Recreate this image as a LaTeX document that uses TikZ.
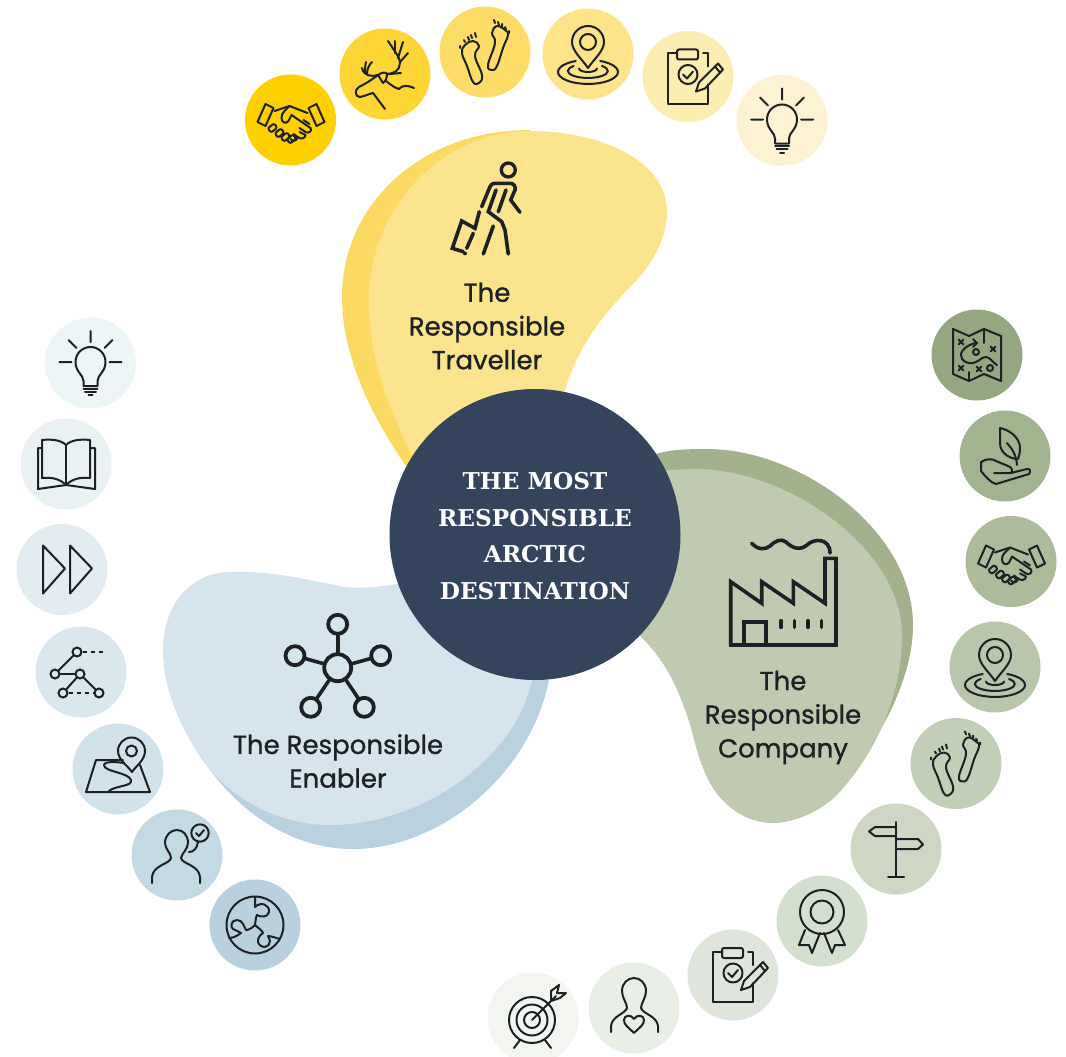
\documentclass[tikz,border=0pt]{standalone}
\usepackage{fontspec}
\newfontfamily\labfont[FakeBold=1]{Poppins}
\newfontfamily\headfont{DejaVu Serif}[BoldFont={DejaVu Serif Bold}]
\definecolor{ink}{HTML}{1D2124}
\definecolor{navy}{HTML}{33445C}
\definecolor{yd}{HTML}{FCDA62}\definecolor{yl}{HTML}{FCE48F}
\definecolor{gd}{HTML}{A3B18C}\definecolor{gl}{HTML}{BFCAB0}
\definecolor{bd}{HTML}{BAD2DF}\definecolor{bl}{HTML}{D6E5ED}
\tikzset{
 x=1pt,y=-1pt,
 disk/.style={circle,minimum size=91pt,inner sep=0pt,/utils/exec={\definecolor{dk}{HTML}{#1}},fill=dk},
 ic/.style={draw=ink,line width=2pt,line cap=round,line join=round},
 big/.style={draw=ink,line width=3.6pt,line cap=round,line join=miter},
 lab/.style={text=ink,align=center,font=\labfont\fontsize{26}{33.7}\selectfont,inner sep=0pt},
 head/.style={text=white,align=center,font=\headfont\bfseries\fontsize{23.2}{36.6}\selectfont,inner sep=0pt},
 nd/.style={circle,draw=ink,line width=2pt,minimum size=9pt,inner sep=0pt},
 hubn/.style={circle,draw=ink,line width=3.8pt,minimum size=19pt,inner sep=0pt},
 pics/hshake/.style={code={
  \path[ic] (-25,-16)--(-17,-12)--(-25,6)--(-33,2)--cycle;
  \path[ic] (18,-12)--(26,-16)--(34,2)--(26,6)--cycle;
  \path[ic] (-16,-9)--(-1,-14)--(17,-7);
  \path[ic] (-1,-14) .. controls (-6,-9) and (-9,-7) .. (-9,-2) .. controls (-9,3) and (-4,4) .. (-2,1) -- (1,-5) -- (20,8) .. controls (22,11) and (18,14) .. (15,12);
  \path[ic] (9,12)--(15,15) .. controls (15,18) and (11,20) .. (7,17);
  \path[ic] (3,14)--(7,17) .. controls (7,21) and (2,22) .. (0,19);
  \path[ic] (19,4)--(13,0); \path[ic] (15,12)--(9,8);
  \foreach \p/\q in {-18/8,-11/13,-5/17,1/19}{\path[ic,rounded corners=2pt,rotate around={40:(\p,\q)}] (\p-4,\q-2.7) rectangle (\p+4,\q+2.7);}
 }},
 pics/deer/.style={code={
  \path[ic] (29,14) .. controls (24,12) and (19,10) .. (14,15) .. controls (10,14) and (6,11) .. (1,7);
  \path[ic] (-7,1) .. controls (-12,5) and (-20,10) .. (-26,13) .. controls (-31,16) and (-30,23) .. (-25,23) .. controls (-20,22) and (-16,20) .. (-12,19) -- (0,35);
  \path[ic] (-7,1) .. controls (-3,-2) and (1,-2) .. (2,0) .. controls (2,3) and (1,7) .. (-2,9) .. controls (-4,6) and (-5,4) .. (-7,1);
  \path[ic] (2,0) .. controls (9,0) and (15,-4) .. (15,-11) .. controls (15,-17) and (8,-25) .. (3,-33);
  \path[ic] (10,-21)--(10,-33); \path[ic] (13,-16)--(18,-32); \path[ic] (15,-12)--(23,-21); \path[ic] (5,0)--(16,-1);
  \path[ic] (-7,1) .. controls (-14,3) and (-21,2) .. (-23,-6);
  \path[ic] (-20,-1) .. controls (-20,-5) and (-20,-8) .. (-19,-12); \path[ic] (-18,0) .. controls (-18,-5) and (-16,-9) .. (-13,-12);
 }},
 pics/feet/.style={code={
  \path[ic] plot[smooth cycle,tension=.7] coordinates {(-20,-7)(-12,-11)(-6,-6)(-10,4)(-3,23)(-6,31)(-12,30)(-18,14)(-23,1)};
  \path[ic] plot[smooth cycle,tension=.7] coordinates {(12,-26)(20,-22)(23,-17)(18,-4)(12,14)(7,18)(3,13)(10,-9)(7,-19)};
  \path[ic] (-25,-6)--(-25,-4) (-21,-12)--(-20,-10) (-17,-15)--(-16,-12) (-14,-17)--(-13,-14) (-10,-19)--(-9,-15);
  \path[ic] (9,-32)--(10,-29) (13,-30)--(14,-27) (17,-28)--(17,-26) (20,-25)--(21,-23) (24,-21)--(24,-19);
 }},
 pics/pinring/.style={code={
  \path[ic] (0,14) .. controls (-6,5) and (-16,-3) .. (-16,-12) arc[start angle=180,end angle=360,radius=16] .. controls (16,-3) and (6,5) .. cycle;
  \path[ic] (0,-12) circle[radius=8];
  \path[ic] (12.2,7) arc[start angle=-66,end angle=246,x radius=30,y radius=12];
  \path[ic] (14,12) arc[start angle=-45,end angle=225,x radius=20,y radius=7];
  \path[ic] (-9,14.5) arc[start angle=180,end angle=0,x radius=9,y radius=3.5];
 }},
 pics/clip/.style={code={
  \path[ic] (-11,-23)--(-20,-23)--(-20,27)--(20,27)--(20,8);
  \path[ic] (15,-23)--(20,-23)--(20,-10);
  \path[ic,rounded corners=2pt] (-11,-27) rectangle (10,-17);
  \path[ic] (0,-2) circle[radius=9.5];
  \path[ic] (-5,-2)--(-1,2)--(5,-5);
  \path[ic] (8,15)--(11,6)--(30,-13)--(35,-7)--(17,12)--cycle;
  \path[ic] (27,-10)--(32,-4);
 }},
 pics/bulb/.style={code={
  \path[ic] (0,-32)--(0,-21) (-22,-23)--(-14,-15) (22,-23)--(14,-15) (-31,-1)--(-19,-1) (19,-1)--(31,-1);
  \path[ic] (-7,23)--(-7,18) .. controls (-7,12) and (-15,9) .. (-15,-1) arc[start angle=180,end angle=360,radius=15] .. controls (15,9) and (7,12) .. (7,18)--(7,23)--cycle;
  \path[ic] (-7,25.5)--(7,25.5) (-5.5,28.5)--(5.5,28.5) (-2,32)--(2,32);
 }},
 pics/tmap/.style={code={
  \path[ic] (-24,-26)--(-8,-19)--(7,-26)--(24,-19)--(24,26)--(7,19)--(-8,26)--(-24,19)--cycle;
  \path[ic] (7,-26)--(7,-12) (-8,17)--(-8,26);
  \path[ic] (0,-12) .. controls (-6,-12) and (-16,-6) .. (-16,0) .. controls (-16,6) and (-10,9) .. (-4,8) .. controls (2,7) and (4,2) .. (9,2) .. controls (13,2) and (16,8) .. (20,10);
  \path[ic] (-4,-16)--(0,-12)--(-4,-8);
  \path[ic] (-1,-3) circle[radius=3] (13,13) circle[radius=3];
  \foreach \p/\q in {-16/-13,16/-6,-16/13,2/14}{\path[ic] (\p-2.5,\q-2.5)--(\p+2.5,\q+2.5) (\p-2.5,\q+2.5)--(\p+2.5,\q-2.5);}
 }},
 pics/plant/.style={code={
  \path[ic] (-5,-28) .. controls (5,-26) and (15,-18) .. (15,-8) .. controls (15,-3) and (14,0) .. (13,3) .. controls (6,3) and (-5,-2) .. (-5,-13)--cycle;
  \path[ic] (2,-13) .. controls (6,-8) and (11,-3) .. (12,9);
  \path[ic] (-24,6)--(-24,15) .. controls (-20,20) and (-14,27) .. (-9,28) -- (24,18) .. controls (26,16) and (25,12) .. (22,13) -- (6,17)--(-11,17);
  \path[ic] (-24,6) .. controls (-18,2) and (-12,3) .. (-9,5) -- (3,10) .. controls (7,11) and (8,15) .. (6,17);
 }},
 pics/signpost/.style={code={
  \path[ic] (0,-27)--(0,28) (-8,28)--(8,28);
  \path[ic] (0,-22)--(-21,-22)--(-27,-17.5)--(-21,-13)--(0,-13);
  \path[ic] (0,-10)--(22,-10)--(27,-4.5)--(22,0)--(0,0);
 }},
 pics/ribbon/.style={code={
  \path[ic] (0,-9) circle[radius=22] (0,-9) circle[radius=11.5];
  \path[ic] (-17,9)--(-23,24)--(-13,24)--(-10,32)--(-2,12);
  \path[ic] (16,9)--(23,24)--(13,24)--(10,32)--(2,12);
 }},
 pics/heartman/.style={code={
  \path[ic] (-23,24)--(-23,18) .. controls (-22,8) and (-9,6) .. (-7,0) .. controls (-7,-5) and (-12,-10) .. (-12,-17) .. controls (-12,-25) and (-6,-30) .. (0,-30) .. controls (6,-30) and (12,-25) .. (12,-17) .. controls (12,-10) and (7,-5) .. (7,0) .. controls (9,6) and (23,8) .. (24,18)--(24,24);
  \path[ic] (0,25) .. controls (-6,19) and (-10,17) .. (-10,12) .. controls (-10,7) and (-3,6) .. (0,11) .. controls (3,6) and (10,7) .. (10,12) .. controls (10,17) and (6,19) .. (0,25);
 }},
 pics/target/.style={code={
  \path[ic] (-1,2) circle[radius=23] (-1,2) circle[radius=15.5] (-1,2) circle[radius=8];
  \path[ic] (-1,2)--(23,-22);
  \path[ic] (18,-17)--(18,-27)--(26,-33)--(24,-25)--(33,-25)--(27,-20)--cycle;
  \path[ic] (-13,22)--(-19,30) (12,22)--(18,30);
 }},
 pics/book/.style={code={
  \path[ic] (0,-19) .. controls (-5,-24) and (-14,-25) .. (-24,-24)--(-24,14) .. controls (-14,13) and (-6,15) .. (0,21) .. controls (6,15) and (14,13) .. (24,14)--(24,-24) .. controls (14,-25) and (5,-24) .. (0,-19)--cycle;
  \path[ic] (0,-19)--(0,21);
  \path[ic] (-24,-16)--(-28,-16)--(-28,25)--(0,21)--(29,25)--(29,-16)--(24,-16);
 }},
 pics/ffwd/.style={code={
  \path[ic] (-19,-24)--(3,-1)--(-19,24)--cycle;
  \path[ic] (8,-24)--(30,-1)--(8,24)--cycle;
 }},
 pics/netw/.style={code={
  \node[nd] (na) at (-4,-20) {}; \node[nd] (nb) at (-26,2) {}; \node[nd] (nc) at (-1,2) {};
  \node[nd] (nd) at (-18,21) {}; \node[nd] (ne) at (18,21) {};
  \coordinate (nf) at (23,-20);
  \path[ic] (na)--(nb); \path[ic] (nb)--(nc); \path[ic] (nc)--(nd); \path[ic] (nc)--(ne);
  \path[ic,dash pattern=on 4pt off 4pt,line cap=butt] (nd)--(ne); \path[ic,dash pattern=on 4pt off 4pt,line cap=butt] (na)--(nf);
 }},
 pics/mappin/.style={code={
  \path[ic] (14,3) .. controls (10,-3) and (0,-9) .. (0,-18) arc[start angle=180,end angle=360,radius=13.5] .. controls (27,-9) and (18,-3) .. cycle;
  \path[ic] (13.5,-18) circle[radius=5.5];
  \path[ic] (5,-9)--(-22,-9)--(-32,23)--(32,23)--(22,-4);
  \path[ic] (6,-6) .. controls (0,-7) and (-14,-8) .. (-14,-4) .. controls (-14,3) and (10,3) .. (13,11) .. controls (15,18) and (-4,16) .. (-10,23);
 }},
 pics/checkman/.style={code={
  \path[ic] (-25,28)--(-25,22) .. controls (-24,10) and (-7,9) .. (-6,3) .. controls (-6,-2) and (-12,-6) .. (-12,-12) .. controls (-12,-20) and (-6,-25) .. (0,-25) .. controls (6,-25) and (11,-20) .. (11,-12) .. controls (11,-6) and (5,-2) .. (4,3) .. controls (5,9) and (22,10) .. (23,22)--(23,28);
  \path[ic] (23,-22) circle[radius=8.7];
  \path[ic] (19,-22)--(22,-19)--(27,-25);
  \path[ic] (12,-3) .. controls (17,-3) and (20,-7) .. (21,-13);
 }},
 pics/puzzle/.style={code={
  \path[ic] (0,0) circle[radius=28.5];
  \path[ic] (0,-28.5)--(0,-18) .. controls (6,-24) and (15,-20) .. (14,-13) .. controls (13,-7) and (5,-8) .. (2,-10) .. controls (0,-6) and (1,-3) .. (0,0);
  \path[ic] (0,0) .. controls (-4,4) and (-7,5) .. (-9,5) .. controls (-11,2) and (-12,-5) .. (-18,-5) .. controls (-24,-5) and (-25,2) .. (-22,4) .. controls (-19,6) and (-16,6) .. (-14,8) .. controls (-18,11) and (-22,13) .. (-26,13);
  \path[ic] (0,0) .. controls (3,3) and (7,5) .. (8,8) .. controls (4,10) and (0,17) .. (6,21) .. controls (12,24) and (18,19) .. (13,11) .. controls (16,11) and (21,13) .. (25,14);
 }}
}
\begin{document}
\begin{tikzpicture}
\useasboundingbox (0,0) rectangle (1066,1057);
\clip (0,0) rectangle (1066,1057);
% blobs
\fill[yd] (410,472) .. controls (370,415) and (342,355) .. (342,297) .. controls (342,205) and (420,130) .. (530,130) -- (560,400) -- cycle;
\fill[yl] (420,470) .. controls (390,415) and (369,360) .. (369,300) .. controls (369,210) and (440,131) .. (530,131) .. controls (600,131) and (667,160) .. (667,212) .. controls (667,240) and (650,268) .. (630,287) .. controls (600,318) and (578,348) .. (565,390) -- (500,500) -- cycle;
\fill[gd] (640,460) .. controls (660,450) and (680,449) .. (707,449) .. controls (800,449) and (913,530) .. (913,625) .. controls (913,665) and (895,710) .. (865,755) -- (700,600) -- cycle;
\fill[gl] (640,475) .. controls (660,470) and (680,469) .. (697,469) .. controls (790,470) and (902,550) .. (902,635) .. controls (902,690) and (880,750) .. (835,797) .. controls (815,815) and (790,823) .. (773,823) .. controls (745,823) and (722,805) .. (710,783) .. controls (695,755) and (695,735) .. (685,710) .. controls (675,680) and (660,655) .. (640,636) -- cycle;
\fill[bd] (192,742) .. controls (230,810) and (290,849) .. (353,849) .. controls (440,849) and (530,775) .. (549,680) -- (400,650) -- cycle;
\fill[bl] (410,582) .. controls (385,586) and (360,590) .. (340,586) .. controls (300,578) and (265,570) .. (227,572) .. controls (185,575) and (163,610) .. (163,650) .. controls (163,690) and (180,725) .. (200,757) .. controls (230,800) and (280,825) .. (330,825) .. controls (420,825) and (515,760) .. (532,680) -- cycle;
% centre
\node[circle,fill=navy,minimum size=291pt,inner sep=0pt] (hub) at (535,534.5) {};
\node[head] (ctitle) at (535,536) {THE MOST\\RESPONSIBLE\\ARCTIC\\DESTINATION};
% labels
\node[lab] (ltrav) at (487,326) {The\\Responsible\\Traveller};
\node[lab] (lcomp) at (783,717.5) {The\\Responsible\\Company};
\node[lab] (lenab) at (338,761) {The Responsible\\Enabler};
% yellow disks
\node[disk=FFD000] (y1) at (290.5,120) {};
\node[disk=FDD535] (y2) at (385,74) {};
\node[disk=FDDC68] (y3) at (485,52) {};
\node[disk=FDE38A] (y4) at (588,54) {};
\node[disk=FCEDB0] (y5) at (688,76.5) {};
\node[disk=FDF3D3] (y6) at (782,120.5) {};
\pic at (y1) {hshake}; \pic at (y2) {deer}; \pic at (y3) {feet};
\pic at (y4) {pinring}; \pic at (y5) {clip}; \pic at (y6) {bulb};
% green disks
\node[disk=94A780] (g1) at (977,355) {};
\node[disk=A2B38F] (g2) at (1005,456) {};
\node[disk=ADBB9B] (g3) at (1011,561.5) {};
\node[disk=BAC6AB] (g4) at (995,667) {};
\node[disk=C3CEB7] (g5) at (956,763.5) {};
\node[disk=CDD7C4] (g6) at (896,849) {};
\node[disk=D5DFCF] (g7) at (822,921) {};
\node[disk=E0E5DC] (g8) at (733,975) {};
\node[disk=E9EEE6] (g9) at (634,1008) {};
\node[disk=F2F5F0] (g10) at (533,1018) {};
\pic at (g1) {tmap}; \pic at (g2) {plant}; \pic at (g3) {hshake}; \pic at (g4) {pinring};
\pic at (g5) {feet}; \pic at (g6) {signpost}; \pic at (g7) {ribbon}; \pic at (g8) {clip};
\pic at (g9) {heartman}; \pic at (g10) {target};
% blue disks
\node[disk=EEF5F6] (b1) at (90.5,363) {};
\node[disk=E9F1F3] (b2) at (66,464) {};
\node[disk=E3EDF1] (b3) at (62,569.5) {};
\node[disk=DAE7ED] (b4) at (81,672) {};
\node[disk=D1E2EA] (b5) at (118,769) {};
\node[disk=C3DAE4] (b6) at (177,855) {};
\node[disk=B9D1DF] (b7) at (255,925) {};
\pic at (b1) {bulb}; \pic at (b2) {book}; \pic at (b3) {ffwd}; \pic at (b4) {netw};
\pic at (b5) {mappin}; \pic at (b6) {checkman}; \pic at (b7) {puzzle};
% traveller
\begin{scope}[shift={(420,150)}]
 \path[big,line width=3.3pt] (88.3,20) circle[radius=7];
 \path[big] (61.7,56.7)--(70,36.7) .. controls (72,33) and (74,33.3) .. (76.7,33.3)--(90,33.3) .. controls (94,33.3) and (96,37) .. (95,40)--(90.7,50)--(100,62.3);
 \path[big] (76,40)--(68.3,61.7)--(81.7,71.7)--(85,80)--(88.3,104);
 \path[big] (86,40)--(78.3,61.7);
 \path[big] (73.3,76)--(63.3,104);
 \path[big] (59.3,61.7)--(55,78.3)--(41.7,71)--(32.3,98.3)--(43.3,101.7);
 \path[big] (53.3,83.3)--(46.7,98.3);
 \path[big] (45,103.3)--(45,103.5);
\end{scope}
% factory
\begin{scope}[shift={(710,520)}]
 \path[big] (20.7,125)--(20.7,61.7)--(51.7,83.3)--(51.7,61.7)--(83.3,83.3)--(83.3,61.7)--(115,83.3)--(115,38.3)--(126,38.3)--(126,125)--cycle;
 \path[big] (34,125)--(34,101.7)--(56,101.7)--(56,125);
 \path[big] (71,100.7)--(71,107.3) (84.3,100.7)--(84.3,107.3) (98,100.7)--(98,107.3) (111.3,100.7)--(111.3,107.3);
 \path[big] (41.7,23.3) .. controls (48,30) and (55,30) .. (60,26) .. controls (65,21) and (71,18) .. (76,22) .. controls (82,28) and (90,31) .. (97,25) .. controls (104,18) and (120,18) .. (120,33);
\end{scope}
% enabler hub
\begin{scope}[shift={(270,600)}]
 \node[hubn,minimum size=27pt] (h0) at (67.7,67.7) {};
 \node[hubn] (h1) at (67.7,24.3) {};
 \node[hubn] (h2) at (110.7,55.7) {};
 \node[hubn] (h3) at (25,55.7) {};
 \node[hubn] (h4) at (40.7,107.3) {};
 \node[hubn] (h5) at (94.3,107.3) {};
 \path[big] (h0)--(h1); \path[big] (h0)--(h2); \path[big] (h0)--(h3); \path[big] (h0)--(h4); \path[big] (h0)--(h5);
\end{scope}
\end{tikzpicture}
\end{document}
